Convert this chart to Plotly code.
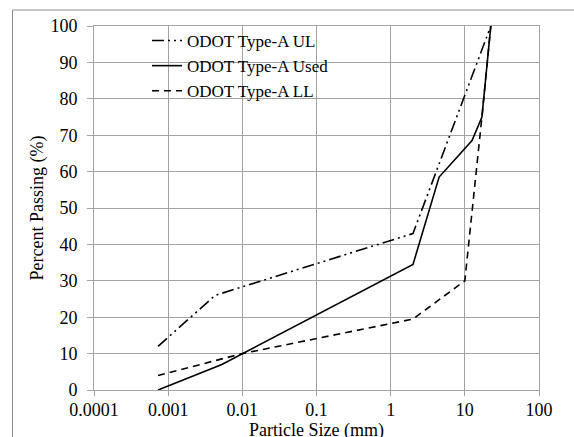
import plotly.graph_objects as go

# Data
ul_size = [0.00073, 0.0043, 2.0, 22.4]
ul_pass = [12, 26, 43, 100]

used_size = [0.00073, 0.0053, 2.0, 4.5, 12.5, 17, 22.4]
used_pass = [0, 7, 34.5, 58.5, 68.5, 75, 100]

ll_size = [0.00073, 0.01, 2.0, 10, 17, 22.4]
ll_pass = [4, 10, 19.5, 30, 75, 100]

x_ticks = [0.0001, 0.001, 0.01, 0.1, 1, 10, 100]
x_ticktext = ["0.0001", "0.001", "0.01", "0.1", "1", "10", "100"]

names = ["ODOT Type-A UL", "ODOT Type-A Used", "ODOT Type-A LL"]
x_title = "Particle Size (mm)"
y_title = "Percent Passing (%)"

FONT = "Liberation Serif, Times New Roman, serif"
GRID = "#a3a3a3"

fig = go.Figure()
fig.add_trace(go.Scatter(x=ul_size, y=ul_pass, mode="lines", name=names[0],
                         line=dict(color="black", width=1.6, dash="12px,4px,2px,4px,2px,4px")))
fig.add_trace(go.Scatter(x=used_size, y=used_pass, mode="lines", name=names[1],
                         line=dict(color="black", width=1.6)))
fig.add_trace(go.Scatter(x=ll_size, y=ll_pass, mode="lines", name=names[2],
                         line=dict(color="black", width=1.6, dash="7px,5px")))

W, H = 574, 437
L, R, T, B = 94, 35, 26, 47
pw, ph = W - L - R, H - T - B

def px(xp):
    return (xp - L) / pw

def py(yp):
    return (H - B - yp) / ph

tickfont = dict(family=FONT, size=18, color="black")

fig.update_layout(
    template="none",
    width=W, height=H,
    margin=dict(l=L, r=R, t=T, b=B, autoexpand=False),
    paper_bgcolor="white", plot_bgcolor="white",
    font=dict(family=FONT, size=18, color="black"),
    showlegend=True,
    legend=dict(x=px(147), y=py(23), xanchor="left", yanchor="top",
                bgcolor="rgba(0,0,0,0)", borderwidth=0,
                font=dict(family=FONT, size=17, color="black")),
    xaxis=dict(type="log", range=[-4, 2], tickvals=x_ticks, ticktext=x_ticktext,
               tickfont=tickfont, automargin=False,
               showgrid=True, gridcolor=GRID, gridwidth=1,
               showline=True, linecolor=GRID, linewidth=1, mirror=True,
               ticks="outside", ticklen=5, tickcolor=GRID, ticklabelstandoff=-2,
               zeroline=False),
    yaxis=dict(range=[0, 100], dtick=10, tick0=0,
               tickfont=tickfont, automargin=False,
               showgrid=True, gridcolor=GRID, gridwidth=1,
               showline=True, linecolor=GRID, linewidth=1, mirror=True,
               ticks="outside", ticklen=6, tickcolor=GRID, ticklabelstandoff=6,
               zeroline=False,
               title=dict(text=y_title, standoff=2,
                          font=dict(family=FONT, size=18))),
    annotations=[
        dict(text=x_title, xref="paper", yref="paper", x=0.5, y=py(418),
             xanchor="center", yanchor="top", showarrow=False,
             font=dict(family=FONT, size=18, color="black")),
    ],
    shapes=[
        dict(type="rect", xref="paper", yref="paper",
             x0=px(118), x1=px(360), y0=py(97), y1=py(30),
             fillcolor="white", line=dict(width=0), layer="between"),
        dict(type="rect", xref="paper", yref="paper",
             x0=px(12.5), x1=px(580), y0=py(450), y1=py(10),
             fillcolor="rgba(0,0,0,0)", line=dict(color="#8c8c8c", width=1), layer="above"),
    ],
)

fig.write_html("out.html",
               config={"displayModeBar": False},
               post_script="document.body.style.margin='0';document.body.style.padding='0';")
